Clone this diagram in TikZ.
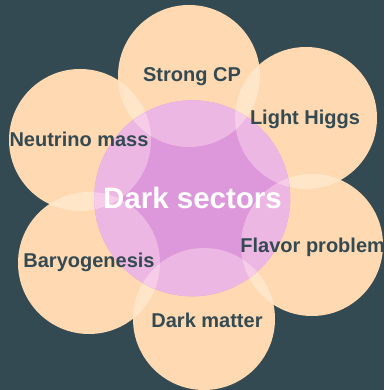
\documentclass[tikz,border=0pt]{standalone}
\usepackage{fontspec}
\setmainfont{Liberation Sans}
\definecolor{bgc}{RGB}{51,74,82}
\definecolor{peach}{RGB}{254,217,178}
\definecolor{peachlens}{RGB}{255,230,200}
\definecolor{violetc}{RGB}{220,152,218}
\definecolor{pinkover}{RGB}{237,183,227}
\definecolor{pinklens}{RGB}{246,204,232}
\definecolor{txt}{RGB}{51,74,82}
\tikzset{
  lbl/.style={anchor=base, inner sep=0pt, text=txt, font=\fontsize{20}{24}\selectfont\bfseries},
  title/.style={anchor=base, inner sep=0pt, text=white, font=\fontsize{29.5}{34}\selectfont\bfseries}
}
\begin{document}
\begin{tikzpicture}[x=1pt,y=1pt]
\useasboundingbox (0,0) rectangle (384,390);
\clip (0,0) rectangle (384,390);
\fill[bgc] (0,0) rectangle (384,390);
% circle centres
\coordinate (SC) at (189,314);
\coordinate (LH) at (306,272);
\coordinate (NM) at (80,250);
\coordinate (FP) at (312,145);
\coordinate (BG) at (89,127);
\coordinate (DM) at (204,71);
\coordinate (CC) at (192.2,191.7);
\def\rr{71}
\def\rc{98}
% peach circles
\foreach \c in {SC,LH,NM,FP,BG,DM}{\fill[peach] (\c) circle (\rr);}
% lenses
\foreach \a/\b in {SC/LH,SC/NM,LH/FP,FP/DM,DM/BG,BG/NM}{
  \begin{scope}\clip (\a) circle (\rr); \fill[peachlens] (\b) circle (\rr);\end{scope}
}
% central circle
\fill[violetc] (CC) circle (\rc);
\begin{scope}
  \clip (CC) circle (\rc);
  \foreach \c in {SC,LH,NM,FP,BG,DM}{\fill[pinkover] (\c) circle (\rr);}
  \foreach \a/\b in {SC/LH,SC/NM,LH/FP,FP/DM,DM/BG,BG/NM}{
    \begin{scope}\clip (\a) circle (\rr); \fill[pinklens] (\b) circle (\rr);\end{scope}
  }
\end{scope}
% labels
\node[lbl] (tSC) at (192,308.3) {Strong CP};
\node[lbl] (tLH) at (305,265) {Light Higgs};
\node[lbl] (tNM) at (79,243.3) {Neutrino mass};
\node[lbl] (tFP) at (312.7,137) {Flavor problem};
\node[lbl] (tBG) at (89,122.3) {Baryogenesis};
\node[lbl] (tDM) at (207,62) {Dark matter};
\node[title] (tCC) at (192.5,181) {Dark sectors};
\end{tikzpicture}
\end{document}
